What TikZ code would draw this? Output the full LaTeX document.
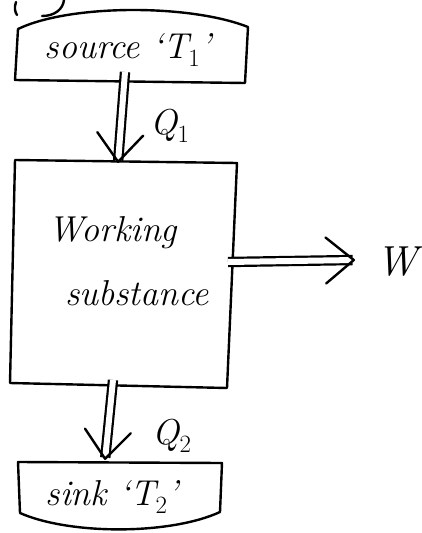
\documentclass[tikz,border=0pt]{standalone}
\usetikzlibrary{arrows.meta}
\begin{document}
\begin{tikzpicture}[x=1pt,y=-1pt,
  ink/.style={line width=2.4pt,line join=round,line cap=round},
  hand/.style={font=\fontsize{36}{40}\selectfont\itshape,inner sep=0pt},
  flow/.style={line width=2.2pt,line cap=butt,double,double distance=6pt,
    -{Straight Barb[length=28pt,width=46pt,line width=2.4pt,round]}}]
\useasboundingbox (0,0) rectangle (421,533);
\clip (0,0) rectangle (421,533);

% stray strokes of a line above the figure
\draw[ink] (16,2) .. controls (14,8) and (15,12) .. (17,15);
\draw[ink] (42,16) .. controls (55,16) and (63,9) .. (64,0);

% source reservoir
\draw[ink] (18,29) .. controls (70,4) and (190,4) .. (248,27)
  -- (245,83) -- (15,80) -- cycle;
\node[hand] (src) at (128,50) {source `T$_1$'};
\coordinate (srcB) at (125,72);

% working substance
\draw[ink] (15,160) -- (237,163) -- (227,388) -- (10,383) -- cycle;
\node[hand] (work) at (113,233) {Working};
\node[hand] (subst) at (137,293) {substance};
\coordinate (wsT) at (118,163);
\coordinate (wsB) at (113,380);
\coordinate (wsR) at (228,262);

% sink reservoir
\draw[ink] (18,462) -- (222,463) -- (220,512)
  .. controls (170,535) and (70,535) .. (20,513) -- cycle;
\node[hand] (sink) at (112,497) {sink `T$_2$'};
\coordinate (snkT) at (105,460);

% output work
\coordinate (wTip) at (355,260);
\node[hand,anchor=west,font=\fontsize{42}{46}\selectfont\itshape] (work out) at (376,262) {W};

% heat and work flows
\draw[flow] (srcB) -- (wsT);
\draw[flow] (wsB) -- (snkT);
\draw[flow] (wsR) -- (wTip);
\node[hand] (q1) at (170,126) {Q$_1$};
\node[hand] (q2) at (172,436) {Q$_2$};
\end{tikzpicture}
\end{document}
